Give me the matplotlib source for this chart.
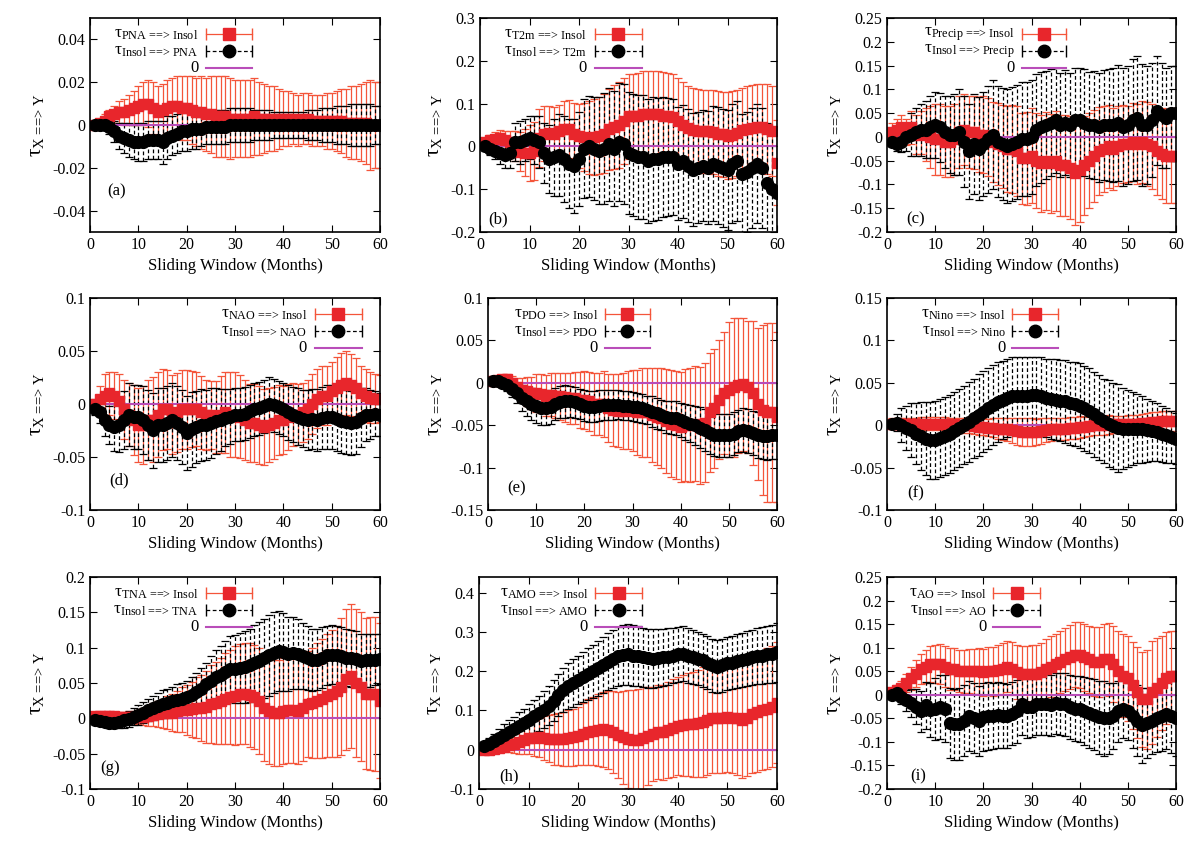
import numpy as np
import matplotlib.pyplot as plt

plt.rcParams['font.family'] = ['Liberation Serif', 'DejaVu Serif']
plt.rcParams['mathtext.fontset'] = 'custom'
plt.rcParams['mathtext.rm'] = 'Liberation Serif'
plt.rcParams['mathtext.it'] = 'Liberation Serif:italic'

months = np.arange(1, 61)

# (a) PNA
red_a = [0.000, 0.001, 0.002, 0.004, 0.005, 0.006, 0.006, 0.007, 0.008, 0.009,
         0.010, 0.010, 0.008, 0.006, 0.007, 0.008, 0.009, 0.009, 0.008, 0.008,
         0.007, 0.006, 0.006, 0.005, 0.005, 0.004, 0.004, 0.004, 0.003, 0.003,
         0.003, 0.003, 0.003, 0.004, 0.003, 0.003, 0.003, 0.003, 0.003, 0.003,
         0.003, 0.003, 0.002, 0.003, 0.003, 0.002, 0.002, 0.002, 0.002, 0.002,
         0.002, 0.002, 0.001, 0.001, 0.001, 0.001, 0.001, 0.000, 0.000, 0.000]
red_a_err = [0.001, 0.002, 0.003, 0.003, 0.004, 0.005, 0.006, 0.007, 0.008, 0.009,
             0.010, 0.011, 0.012, 0.012, 0.012, 0.013, 0.013, 0.014, 0.015, 0.015,
             0.016, 0.016, 0.017, 0.017, 0.018, 0.019, 0.019, 0.019, 0.019, 0.018,
             0.018, 0.018, 0.018, 0.018, 0.017, 0.016, 0.015, 0.015, 0.014, 0.013,
             0.013, 0.012, 0.012, 0.012, 0.012, 0.012, 0.012, 0.012, 0.013, 0.013,
             0.014, 0.015, 0.016, 0.017, 0.017, 0.018, 0.019, 0.021, 0.020, 0.020]
black_a = [0.000, 0.000, 0.000, -0.001, -0.003, -0.005, -0.006, -0.007, -0.008, -0.008,
           -0.008, -0.007, -0.007, -0.007, -0.008, -0.006, -0.005, -0.004, -0.003, -0.003,
           -0.002, -0.002, -0.002, -0.001, -0.001, -0.001, -0.001, -0.001, 0.000, 0.000,
           0.000, 0.000, 0.000, 0.000, 0.000, 0.000, 0.000, 0.000, 0.000, 0.000,
           0.000, 0.000, 0.000, 0.000, 0.000, 0.000, 0.000, 0.000, 0.000, 0.000,
           0.000, 0.000, 0.000, 0.000, 0.000, 0.000, 0.000, 0.000, 0.000, 0.000]
black_a_err = [0.001, 0.002, 0.002, 0.003, 0.005, 0.006, 0.007, 0.008, 0.008, 0.009,
               0.009, 0.009, 0.009, 0.009, 0.010, 0.010, 0.009, 0.009, 0.009, 0.009,
               0.009, 0.009, 0.008, 0.008, 0.008, 0.008, 0.008, 0.008, 0.008, 0.008,
               0.008, 0.008, 0.008, 0.007, 0.007, 0.007, 0.007, 0.006, 0.006, 0.006,
               0.006, 0.006, 0.006, 0.006, 0.007, 0.007, 0.007, 0.008, 0.008, 0.008,
               0.009, 0.009, 0.009, 0.010, 0.010, 0.010, 0.010, 0.010, 0.009, 0.009]

# (b) T2m
red_b = [0.010, 0.015, 0.018, 0.020, 0.015, 0.010, 0.000, -0.012, -0.015, -0.015,
         -0.010, 0.020, 0.030, 0.032, 0.030, 0.035, 0.040, 0.040, 0.030, 0.025,
         0.022, 0.020, 0.022, 0.025, 0.030, 0.040, 0.045, 0.050, 0.060, 0.070,
         0.070, 0.072, 0.075, 0.075, 0.076, 0.075, 0.072, 0.070, 0.068, 0.060,
         0.050, 0.042, 0.038, 0.035, 0.035, 0.035, 0.033, 0.030, 0.028, 0.025,
         0.027, 0.032, 0.038, 0.040, 0.042, 0.045, 0.045, 0.040, 0.035, -0.038]
red_b_err = [0.010, 0.012, 0.015, 0.018, 0.020, 0.025, 0.035, 0.045, 0.055, 0.065,
             0.068, 0.068, 0.065, 0.062, 0.062, 0.062, 0.065, 0.068, 0.072, 0.075,
             0.080, 0.085, 0.088, 0.090, 0.092, 0.095, 0.098, 0.100, 0.100, 0.100,
             0.100, 0.100, 0.100, 0.100, 0.100, 0.100, 0.102, 0.102, 0.100, 0.100,
             0.100, 0.098, 0.098, 0.098, 0.096, 0.096, 0.098, 0.100, 0.100, 0.102,
             0.102, 0.100, 0.098, 0.100, 0.102, 0.100, 0.100, 0.105, 0.105, 0.100]
black_b = [0.000, -0.005, -0.010, -0.015, -0.020, -0.015, 0.010, 0.010, 0.015, 0.020,
           0.015, 0.010, -0.015, -0.030, -0.025, -0.020, -0.030, -0.040, -0.045, -0.030,
           -0.005, 0.000, -0.005, -0.010, -0.005, 0.005, -0.005, 0.010, 0.005, -0.015,
           -0.020, -0.025, -0.025, -0.035, -0.030, -0.030, -0.025, -0.025, -0.025, -0.040,
           -0.035, -0.045, -0.055, -0.050, -0.045, -0.050, -0.040, -0.045, -0.050, -0.055,
           -0.040, -0.035, -0.065, -0.060, -0.050, -0.040, -0.050, -0.085, -0.100, -0.110]
black_b_err = [0.010, 0.015, 0.020, 0.025, 0.030, 0.035, 0.045, 0.050, 0.050, 0.050,
               0.055, 0.060, 0.070, 0.080, 0.090, 0.095, 0.100, 0.105, 0.110, 0.110,
               0.115, 0.118, 0.120, 0.125, 0.130, 0.132, 0.135, 0.138, 0.140, 0.142,
               0.142, 0.144, 0.145, 0.145, 0.145, 0.142, 0.140, 0.138, 0.135, 0.132,
               0.132, 0.132, 0.132, 0.130, 0.130, 0.132, 0.134, 0.136, 0.138, 0.140,
               0.140, 0.140, 0.140, 0.140, 0.140, 0.140, 0.140, 0.140, 0.140, 0.140]

# (c) Precip
red_c = [0.010, 0.015, 0.020, 0.010, 0.020, 0.005, 0.010, 0.005, 0.000, -0.005,
         -0.005, -0.010, -0.010, -0.005, 0.010, 0.015, 0.010, 0.010, 0.005, 0.005,
         0.000, -0.010, -0.015, -0.020, -0.025, -0.025, -0.030, -0.045, -0.045, -0.040,
         -0.050, -0.055, -0.050, -0.055, -0.050, -0.060, -0.060, -0.065, -0.075, -0.070,
         -0.060, -0.050, -0.040, -0.030, -0.025, -0.020, -0.025, -0.020, -0.015, -0.015,
         -0.010, -0.015, -0.010, -0.015, -0.020, -0.030, -0.035, -0.040, -0.040, -0.040]
red_c_err = [0.020, 0.022, 0.025, 0.028, 0.035, 0.040, 0.045, 0.055, 0.065, 0.075,
             0.075, 0.075, 0.075, 0.075, 0.075, 0.075, 0.076, 0.077, 0.078, 0.080,
             0.082, 0.084, 0.086, 0.088, 0.090, 0.092, 0.094, 0.096, 0.098, 0.100,
             0.100, 0.102, 0.103, 0.104, 0.105, 0.106, 0.107, 0.108, 0.110, 0.108,
             0.104, 0.100, 0.096, 0.092, 0.090, 0.088, 0.086, 0.084, 0.082, 0.080,
             0.082, 0.084, 0.086, 0.088, 0.090, 0.092, 0.095, 0.098, 0.100, 0.100]
black_c = [-0.010, -0.015, -0.010, 0.000, 0.005, 0.010, 0.015, 0.015, 0.020, 0.025,
           0.020, 0.010, 0.005, 0.005, 0.010, -0.010, -0.030, -0.015, -0.025, -0.015,
           -0.005, 0.005, -0.010, -0.015, -0.020, -0.015, -0.010, -0.005, -0.005, 0.000,
           0.015, 0.020, 0.025, 0.030, 0.035, 0.025, 0.030, 0.025, 0.035, 0.035,
           0.030, 0.025, 0.025, 0.020, 0.025, 0.025, 0.025, 0.030, 0.020, 0.025,
           0.035, 0.040, 0.025, 0.025, 0.035, 0.055, 0.045, 0.040, 0.050, 0.050]
black_c_err = [0.010, 0.015, 0.022, 0.030, 0.045, 0.050, 0.055, 0.060, 0.065, 0.070,
               0.072, 0.075, 0.080, 0.085, 0.090, 0.095, 0.100, 0.105, 0.108, 0.110,
               0.112, 0.114, 0.116, 0.118, 0.120, 0.120, 0.120, 0.120, 0.120, 0.120,
               0.118, 0.116, 0.114, 0.112, 0.110, 0.110, 0.110, 0.110, 0.110, 0.110,
               0.112, 0.112, 0.114, 0.114, 0.115, 0.118, 0.120, 0.122, 0.124, 0.125,
               0.128, 0.130, 0.128, 0.125, 0.120, 0.115, 0.110, 0.105, 0.100, 0.100]

# (d) NAO
red_d = [0.000, 0.005, 0.008, 0.010, 0.008, 0.003, -0.005, -0.010, -0.015, -0.020,
         -0.020, -0.015, -0.015, -0.010, -0.005, -0.005, -0.010, -0.008, -0.005, -0.005,
         -0.005, -0.005, -0.008, -0.010, -0.010, -0.012, -0.010, -0.008, -0.010, -0.010,
         -0.012, -0.015, -0.018, -0.018, -0.020, -0.022, -0.020, -0.018, -0.015, -0.015,
         -0.012, -0.010, -0.010, -0.008, -0.005, 0.000, 0.005, 0.008, 0.008, 0.012,
         0.015, 0.018, 0.020, 0.018, 0.015, 0.010, 0.008, 0.006, 0.005, 0.005]
red_d_err = [0.005, 0.012, 0.020, 0.020, 0.022, 0.025, 0.028, 0.030, 0.033, 0.035,
             0.037, 0.038, 0.040, 0.040, 0.038, 0.037, 0.037, 0.037, 0.037, 0.037,
             0.036, 0.035, 0.034, 0.033, 0.032, 0.034, 0.036, 0.038, 0.040, 0.040,
             0.039, 0.038, 0.037, 0.037, 0.037, 0.036, 0.035, 0.034, 0.033, 0.032,
             0.031, 0.030, 0.029, 0.028, 0.028, 0.028, 0.028, 0.028, 0.028, 0.028,
             0.029, 0.030, 0.030, 0.029, 0.028, 0.026, 0.025, 0.024, 0.023, 0.022]
black_d = [-0.005, -0.008, -0.015, -0.020, -0.022, -0.020, -0.015, -0.010, -0.012, -0.012,
           -0.015, -0.020, -0.025, -0.020, -0.020, -0.018, -0.015, -0.018, -0.022, -0.027,
           -0.024, -0.022, -0.020, -0.020, -0.018, -0.016, -0.015, -0.013, -0.012, -0.010,
           -0.010, -0.009, -0.007, -0.005, -0.004, -0.002, 0.000, -0.001, -0.003, -0.005,
           -0.008, -0.010, -0.012, -0.014, -0.015, -0.014, -0.015, -0.013, -0.012, -0.012,
           -0.014, -0.016, -0.017, -0.018, -0.017, -0.013, -0.010, -0.010, -0.009, -0.010]
black_d_err = [0.005, 0.010, 0.015, 0.018, 0.022, 0.025, 0.027, 0.030, 0.030, 0.030,
               0.032, 0.033, 0.035, 0.035, 0.035, 0.035, 0.035, 0.035, 0.035, 0.035,
               0.035, 0.034, 0.034, 0.033, 0.033, 0.031, 0.029, 0.027, 0.026, 0.025,
               0.025, 0.025, 0.025, 0.025, 0.025, 0.025, 0.025, 0.025, 0.025, 0.025,
               0.026, 0.026, 0.027, 0.027, 0.028, 0.028, 0.029, 0.029, 0.030, 0.030,
               0.030, 0.030, 0.030, 0.030, 0.030, 0.028, 0.025, 0.023, 0.021, 0.020]

# (e) PDO
red_e = [0.002, 0.003, 0.004, 0.004, 0.000, -0.005, -0.008, -0.010, -0.012, -0.012,
         -0.013, -0.015, -0.014, -0.015, -0.016, -0.017, -0.018, -0.018, -0.020, -0.020,
         -0.022, -0.025, -0.025, -0.025, -0.030, -0.032, -0.033, -0.033, -0.032, -0.033,
         -0.035, -0.035, -0.035, -0.038, -0.040, -0.042, -0.045, -0.048, -0.050, -0.052,
         -0.050, -0.050, -0.048, -0.050, -0.047, -0.035, -0.030, -0.020, -0.012, -0.008,
         -0.005, -0.003, -0.002, -0.005, -0.012, -0.025, -0.032, -0.035, -0.035, -0.040]
red_e_err = [0.003, 0.004, 0.005, 0.006, 0.008, 0.011, 0.014, 0.017, 0.019, 0.022,
             0.023, 0.024, 0.025, 0.027, 0.028, 0.029, 0.030, 0.031, 0.033, 0.034,
             0.035, 0.036, 0.037, 0.039, 0.040, 0.042, 0.043, 0.045, 0.046, 0.048,
             0.050, 0.052, 0.053, 0.055, 0.057, 0.059, 0.061, 0.063, 0.064, 0.065,
             0.066, 0.067, 0.068, 0.069, 0.070, 0.070, 0.070, 0.070, 0.072, 0.080,
             0.082, 0.080, 0.078, 0.078, 0.085, 0.090, 0.100, 0.105, 0.105, 0.100]
black_e = [0.002, 0.002, 0.000, -0.003, -0.007, -0.012, -0.018, -0.022, -0.025, -0.027,
           -0.030, -0.030, -0.028, -0.025, -0.023, -0.022, -0.022, -0.023, -0.025, -0.027,
           -0.028, -0.028, -0.027, -0.026, -0.026, -0.026, -0.026, -0.027, -0.027, -0.028,
           -0.029, -0.030, -0.032, -0.034, -0.036, -0.038, -0.040, -0.041, -0.042, -0.044,
           -0.046, -0.048, -0.050, -0.053, -0.056, -0.059, -0.061, -0.062, -0.062, -0.062,
           -0.060, -0.057, -0.056, -0.057, -0.059, -0.062, -0.063, -0.063, -0.062, -0.062]
black_e_err = [0.002, 0.003, 0.005, 0.007, 0.010, 0.012, 0.015, 0.017, 0.019, 0.020,
               0.020, 0.020, 0.020, 0.019, 0.019, 0.019, 0.018, 0.018, 0.018, 0.018,
               0.018, 0.018, 0.018, 0.018, 0.018, 0.018, 0.017, 0.017, 0.017, 0.017,
               0.017, 0.017, 0.017, 0.018, 0.018, 0.018, 0.019, 0.019, 0.020, 0.020,
               0.021, 0.022, 0.023, 0.024, 0.025, 0.025, 0.025, 0.025, 0.025, 0.025,
               0.025, 0.025, 0.026, 0.026, 0.026, 0.027, 0.027, 0.028, 0.028, 0.028]

# (f) Nino
red_f = [0.002, 0.002, 0.002, 0.002, 0.002, 0.002, 0.002, 0.002, 0.002, 0.002,
         0.002, 0.002, 0.001, 0.001, 0.000, 0.000, 0.000, -0.001, -0.002, -0.002,
         -0.003, -0.003, -0.004, -0.004, -0.005, -0.006, -0.007, -0.008, -0.008, -0.008,
         -0.008, -0.007, -0.006, -0.005, -0.005, -0.004, -0.004, -0.003, -0.003, -0.002,
         -0.002, -0.001, 0.000, 0.000, 0.000, 0.001, 0.001, 0.001, 0.001, 0.002,
         0.002, 0.002, 0.003, 0.003, 0.004, 0.004, 0.005, 0.005, 0.005, 0.005]
red_f_err = [0.006, 0.006, 0.007, 0.007, 0.007, 0.007, 0.008, 0.008, 0.008, 0.008,
             0.008, 0.008, 0.008, 0.008, 0.009, 0.009, 0.009, 0.009, 0.010, 0.010,
             0.010, 0.011, 0.012, 0.013, 0.014, 0.015, 0.016, 0.016, 0.016, 0.016,
             0.015, 0.015, 0.014, 0.014, 0.013, 0.013, 0.013, 0.013, 0.013, 0.013,
             0.012, 0.012, 0.012, 0.011, 0.011, 0.011, 0.010, 0.010, 0.010, 0.010,
             0.010, 0.010, 0.010, 0.011, 0.011, 0.011, 0.012, 0.012, 0.012, 0.012]
black_f = [0.002, 0.003, 0.000, -0.003, -0.006, -0.010, -0.013, -0.016, -0.018, -0.017,
           -0.015, -0.013, -0.010, -0.007, -0.003, 0.000, 0.004, 0.008, 0.012, 0.016,
           0.020, 0.024, 0.027, 0.030, 0.032, 0.034, 0.035, 0.035, 0.035, 0.036,
           0.036, 0.034, 0.032, 0.031, 0.030, 0.029, 0.028, 0.026, 0.025, 0.023,
           0.020, 0.017, 0.013, 0.009, 0.005, 0.002, -0.001, -0.003, -0.004, -0.004,
           -0.004, -0.004, -0.005, -0.006, -0.007, -0.008, -0.010, -0.012, -0.014, -0.016]
black_f_err = [0.004, 0.010, 0.020, 0.026, 0.032, 0.036, 0.040, 0.043, 0.045, 0.046,
               0.046, 0.046, 0.046, 0.046, 0.046, 0.046, 0.047, 0.047, 0.048, 0.048,
               0.048, 0.047, 0.047, 0.046, 0.046, 0.046, 0.045, 0.045, 0.045, 0.045,
               0.045, 0.046, 0.046, 0.047, 0.048, 0.048, 0.049, 0.049, 0.050, 0.050,
               0.050, 0.050, 0.050, 0.050, 0.050, 0.051, 0.051, 0.052, 0.048, 0.045,
               0.043, 0.041, 0.039, 0.037, 0.035, 0.034, 0.033, 0.032, 0.031, 0.030]

# (g) TNA
red_g = [0.003, 0.003, 0.003, 0.003, 0.003, 0.002, 0.002, 0.002, 0.002, 0.002,
         0.002, 0.003, 0.005, 0.006, 0.007, 0.008, 0.008, 0.010, 0.012, 0.012,
         0.013, 0.015, 0.015, 0.016, 0.020, 0.022, 0.025, 0.028, 0.030, 0.032,
         0.034, 0.035, 0.033, 0.030, 0.025, 0.015, 0.010, 0.008, 0.008, 0.010,
         0.012, 0.012, 0.010, 0.015, 0.020, 0.022, 0.025, 0.028, 0.032, 0.035,
         0.038, 0.045, 0.055, 0.060, 0.050, 0.045, 0.035, 0.035, 0.035, 0.025]
red_g_err = [0.004, 0.004, 0.004, 0.005, 0.005, 0.006, 0.007, 0.008, 0.009, 0.010,
             0.012, 0.014, 0.016, 0.018, 0.020, 0.023, 0.026, 0.029, 0.032, 0.035,
             0.039, 0.043, 0.047, 0.051, 0.055, 0.058, 0.061, 0.064, 0.067, 0.070,
             0.071, 0.072, 0.073, 0.074, 0.075, 0.075, 0.075, 0.075, 0.075, 0.075,
             0.075, 0.075, 0.075, 0.075, 0.075, 0.078, 0.081, 0.084, 0.087, 0.090,
             0.093, 0.097, 0.100, 0.102, 0.105, 0.106, 0.107, 0.108, 0.109, 0.110]
black_g = [-0.002, -0.004, -0.005, -0.006, -0.006, -0.005, -0.003, -0.001, 0.002, 0.005,
           0.008, 0.012, 0.015, 0.018, 0.020, 0.022, 0.024, 0.026, 0.028, 0.030,
           0.033, 0.037, 0.042, 0.048, 0.053, 0.058, 0.062, 0.066, 0.070, 0.070,
           0.071, 0.073, 0.075, 0.078, 0.081, 0.085, 0.089, 0.093, 0.095, 0.094,
           0.091, 0.092, 0.091, 0.088, 0.085, 0.082, 0.083, 0.086, 0.089, 0.090,
           0.089, 0.088, 0.086, 0.085, 0.084, 0.081, 0.082, 0.082, 0.083, 0.084]
black_g_err = [0.004, 0.005, 0.006, 0.007, 0.008, 0.009, 0.010, 0.011, 0.012, 0.014,
               0.015, 0.016, 0.017, 0.018, 0.020, 0.020, 0.021, 0.022, 0.022, 0.023,
               0.025, 0.027, 0.029, 0.031, 0.035, 0.038, 0.041, 0.044, 0.046, 0.048,
               0.050, 0.051, 0.052, 0.054, 0.055, 0.056, 0.057, 0.057, 0.057, 0.055,
               0.053, 0.051, 0.049, 0.047, 0.045, 0.044, 0.043, 0.043, 0.042, 0.042,
               0.041, 0.041, 0.040, 0.040, 0.040, 0.039, 0.038, 0.037, 0.036, 0.035]

# (h) AMO
red_h = [0.000, 0.000, 0.002, 0.005, 0.008, 0.012, 0.015, 0.020, 0.025, 0.030,
         0.030, 0.032, 0.030, 0.028, 0.027, 0.027, 0.028, 0.030, 0.032, 0.035,
         0.040, 0.045, 0.048, 0.050, 0.052, 0.050, 0.045, 0.038, 0.032, 0.028,
         0.025, 0.025, 0.030, 0.035, 0.040, 0.045, 0.045, 0.050, 0.055, 0.060,
         0.062, 0.065, 0.065, 0.067, 0.070, 0.075, 0.080, 0.082, 0.082, 0.083,
         0.082, 0.080, 0.075, 0.080, 0.090, 0.095, 0.100, 0.105, 0.110, 0.120]
red_h_err = [0.003, 0.005, 0.007, 0.009, 0.012, 0.018, 0.024, 0.030, 0.035, 0.040,
             0.045, 0.050, 0.055, 0.060, 0.065, 0.067, 0.069, 0.071, 0.073, 0.075,
             0.079, 0.083, 0.087, 0.091, 0.095, 0.100, 0.105, 0.110, 0.118, 0.125,
             0.128, 0.130, 0.130, 0.125, 0.120, 0.120, 0.121, 0.122, 0.124, 0.125,
             0.128, 0.131, 0.134, 0.137, 0.140, 0.140, 0.140, 0.140, 0.140, 0.140,
             0.142, 0.144, 0.146, 0.148, 0.150, 0.151, 0.152, 0.153, 0.154, 0.155]
black_h = [0.010, 0.015, 0.022, 0.030, 0.037, 0.045, 0.052, 0.060, 0.068, 0.076,
           0.085, 0.093, 0.102, 0.112, 0.125, 0.140, 0.152, 0.162, 0.170, 0.178,
           0.185, 0.192, 0.200, 0.208, 0.216, 0.224, 0.232, 0.238, 0.242, 0.243,
           0.240, 0.238, 0.235, 0.233, 0.232, 0.233, 0.235, 0.237, 0.240, 0.243,
           0.245, 0.240, 0.237, 0.232, 0.228, 0.222, 0.215, 0.212, 0.215, 0.220,
           0.222, 0.225, 0.228, 0.232, 0.235, 0.238, 0.240, 0.243, 0.245, 0.248]
black_h_err = [0.010, 0.014, 0.018, 0.022, 0.028, 0.030, 0.032, 0.035, 0.037, 0.040,
               0.042, 0.045, 0.047, 0.050, 0.052, 0.054, 0.056, 0.058, 0.060, 0.062,
               0.064, 0.066, 0.068, 0.070, 0.072, 0.073, 0.074, 0.075, 0.076, 0.077,
               0.077, 0.076, 0.076, 0.075, 0.075, 0.074, 0.073, 0.072, 0.071, 0.070,
               0.070, 0.069, 0.069, 0.068, 0.068, 0.068, 0.068, 0.068, 0.068, 0.068,
               0.068, 0.069, 0.069, 0.070, 0.070, 0.071, 0.072, 0.073, 0.074, 0.075]

# (i) AO
red_i = [0.005, 0.010, 0.015, 0.025, 0.035, 0.045, 0.055, 0.060, 0.065, 0.065,
         0.065, 0.060, 0.055, 0.055, 0.050, 0.050, 0.050, 0.050, 0.050, 0.048,
         0.050, 0.050, 0.052, 0.055, 0.060, 0.055, 0.048, 0.045, 0.045, 0.045,
         0.045, 0.048, 0.055, 0.060, 0.065, 0.070, 0.075, 0.080, 0.085, 0.085,
         0.080, 0.075, 0.070, 0.070, 0.075, 0.075, 0.065, 0.050, 0.040, 0.035,
         0.020, 0.005, -0.010, -0.010, 0.005, 0.015, 0.025, 0.035, 0.040, 0.040]
red_i_err = [0.005, 0.010, 0.015, 0.020, 0.025, 0.028, 0.032, 0.035, 0.038, 0.040,
             0.042, 0.044, 0.045, 0.045, 0.045, 0.046, 0.047, 0.048, 0.049, 0.050,
             0.051, 0.052, 0.053, 0.054, 0.055, 0.056, 0.057, 0.058, 0.059, 0.060,
             0.061, 0.062, 0.063, 0.064, 0.065, 0.066, 0.067, 0.068, 0.069, 0.070,
             0.071, 0.072, 0.073, 0.074, 0.075, 0.078, 0.081, 0.085, 0.088, 0.090,
             0.093, 0.097, 0.100, 0.105, 0.110, 0.105, 0.100, 0.098, 0.096, 0.095]
black_i = [0.000, 0.003, -0.005, -0.012, -0.018, -0.025, -0.035, -0.022, -0.032, -0.030,
           -0.025, -0.030, -0.060, -0.063, -0.062, -0.055, -0.045, -0.050, -0.055, -0.047,
           -0.045, -0.045, -0.042, -0.045, -0.045, -0.040, -0.035, -0.020, -0.025, -0.025,
           -0.020, -0.020, -0.020, -0.022, -0.018, -0.020, -0.020, -0.025, -0.030, -0.030,
           -0.035, -0.038, -0.042, -0.048, -0.050, -0.050, -0.045, -0.035, -0.030, -0.035,
           -0.045, -0.055, -0.065, -0.060, -0.055, -0.050, -0.045, -0.040, -0.045, -0.050]
black_i_err = [0.005, 0.010, 0.015, 0.022, 0.030, 0.037, 0.044, 0.050, 0.058, 0.065,
               0.068, 0.071, 0.075, 0.076, 0.077, 0.076, 0.075, 0.074, 0.074, 0.073,
               0.072, 0.071, 0.070, 0.069, 0.068, 0.067, 0.067, 0.066, 0.066, 0.065,
               0.065, 0.065, 0.065, 0.065, 0.065, 0.066, 0.067, 0.068, 0.069, 0.070,
               0.072, 0.074, 0.076, 0.078, 0.080, 0.075, 0.070, 0.065, 0.062, 0.060,
               0.068, 0.075, 0.080, 0.075, 0.070, 0.072, 0.074, 0.076, 0.078, 0.080]

names = ['PNA', 'T2m', 'Precip', 'NAO', 'PDO', 'Nino', 'TNA', 'AMO', 'AO']
letters = ['a', 'b', 'c', 'd', 'e', 'f', 'g', 'h', 'i']
reds = [red_a, red_b, red_c, red_d, red_e, red_f, red_g, red_h, red_i]
red_errs = [red_a_err, red_b_err, red_c_err, red_d_err, red_e_err, red_f_err,
            red_g_err, red_h_err, red_i_err]
blacks = [black_a, black_b, black_c, black_d, black_e, black_f, black_g, black_h, black_i]
black_errs = [black_a_err, black_b_err, black_c_err, black_d_err, black_e_err,
              black_f_err, black_g_err, black_h_err, black_i_err]
ylims = [(-0.05, 0.05), (-0.2, 0.3), (-0.2, 0.25), (-0.1, 0.1), (-0.15, 0.1),
         (-0.1, 0.15), (-0.1, 0.2), (-0.1, 0.44), (-0.2, 0.25)]
ysteps = [0.02, 0.1, 0.05, 0.05, 0.05, 0.05, 0.05, 0.1, 0.05]

# layout in pixels: left, right, top, bottom
boxes = [(90, 380, 18, 232), (480, 777, 18, 232), (887, 1176, 18, 232),
         (90, 380, 298, 510), (488, 777, 298, 510), (887, 1176, 298, 510),
         (90, 380, 577, 789), (479, 777, 577, 789), (887, 1176, 577, 789)]
# key: text right edge, sample start, sample end (axes fraction)
leg_x = [(0.374, 0.40, 0.56), (0.36, 0.387, 0.545), (0.443, 0.467, 0.62),
         (0.748, 0.776, 0.937), (0.38, 0.405, 0.56), (0.41, 0.433, 0.59),
         (0.374, 0.40, 0.56), (0.366, 0.39, 0.547), (0.346, 0.367, 0.53)]
tag_pos = [(0.09, 0.19), (0.06, 0.06), (0.10, 0.06), (0.10, 0.14), (0.10, 0.10),
           (0.10, 0.08), (0.07, 0.10), (0.10, 0.06), (0.107, 0.06)]

RED = '#e8262c'
RED_ERR = '#f4553a'
MAG = '#b94db9'
W, H = 1200, 847

fig = plt.figure(figsize=(12, 8.47), dpi=100)

for k in range(9):
    l, r, t, b = boxes[k]
    ax = fig.add_axes([l / W, 1 - b / H, (r - l) / W, (b - t) / H])

    ax.errorbar(months, reds[k], yerr=red_errs[k], fmt='s', color=RED, ms=7.5,
                ecolor=RED_ERR, elinewidth=0.9, capsize=3, capthick=0.9)
    eb = ax.errorbar(months, blacks[k], yerr=black_errs[k], fmt='o', color='black',
                     ms=8.5, ecolor='black', elinewidth=0.9, capsize=3, capthick=0.9)
    eb[2][0].set_linestyle((0, (3, 2)))
    ax.axhline(0, color=MAG, lw=1.5)

    lo, hi = ylims[k]
    st = ysteps[k]
    ax.set_xlim(0, 60)
    ax.set_ylim(lo, hi)
    ax.set_xticks(np.arange(0, 61, 10))
    ticks = np.round(np.arange(np.ceil(lo / st - 1e-6) * st, hi + 1e-9, st), 3)
    ax.set_yticks(ticks)
    ax.set_yticklabels(['%g' % v if abs(v) > 1e-9 else '0' for v in ticks])
    ax.tick_params(direction='in', top=True, right=True, length=5, labelsize=11.5)
    for s in ax.spines.values():
        s.set_linewidth(1.2)
    ax.set_xlabel('Sliding Window (Months)', fontsize=12)
    ax.set_ylabel(r'τ$_{\text{X ==> Y}}$', fontsize=15)

    # gnuplot style key
    tx, x0, x1 = leg_x[k]
    rows = [0.925, 0.845, 0.765]
    xm = (x0 + x1) / 2
    ax.text(tx, rows[0], r'τ$_{\text{%s ==> Insol}}$' % names[k], transform=ax.transAxes,
            ha='right', va='center', fontsize=12.5)
    ax.plot([x0, x1], [rows[0]] * 2, color=RED_ERR, lw=0.9, transform=ax.transAxes)
    ax.plot([x0, x1], [rows[0]] * 2, color=RED_ERR, ls='none', marker='|', ms=8,
            transform=ax.transAxes)
    ax.plot([xm], [rows[0]], color=RED, marker='s', ms=8, transform=ax.transAxes)
    ax.text(tx, rows[1], r'τ$_{\text{Insol ==> %s}}$' % names[k], transform=ax.transAxes,
            ha='right', va='center', fontsize=12.5)
    ax.plot([x0, x1], [rows[1]] * 2, color='black', lw=0.9, ls=(0, (3, 2)),
            transform=ax.transAxes)
    ax.plot([x0, x1], [rows[1]] * 2, color='black', ls='none', marker='|', ms=8,
            transform=ax.transAxes)
    ax.plot([xm], [rows[1]], color='black', marker='o', ms=9, transform=ax.transAxes)
    ax.text(tx, rows[2], '0', transform=ax.transAxes, ha='right', va='center', fontsize=12)
    ax.plot([x0, x1], [rows[2]] * 2, color=MAG, lw=1.5, transform=ax.transAxes)

    ax.text(tag_pos[k][0], tag_pos[k][1], '(%s)' % letters[k], transform=ax.transAxes,
            ha='center', va='center', fontsize=12)

fig.savefig('out.png', dpi=100)
